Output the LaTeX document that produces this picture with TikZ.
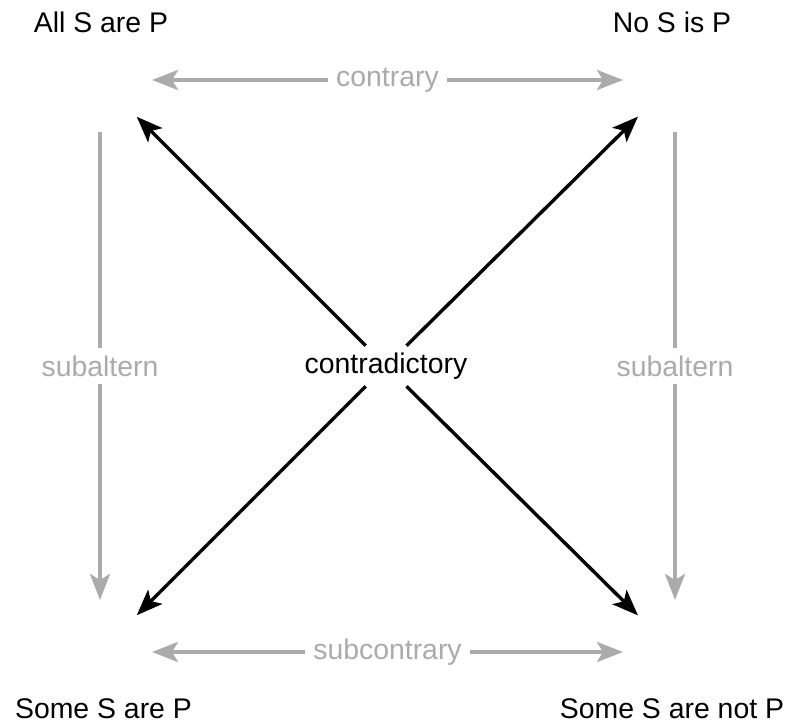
\documentclass[tikz,border=0pt]{standalone}
\usepackage{fontspec}
\setmainfont{Liberation Sans}
\usetikzlibrary{arrows.meta,positioning}
\definecolor{lightgrey}{gray}{0.67}

\begin{document}
\begin{tikzpicture}[x=0.5pt, y=-0.5pt,
	>={Stealth[length=13pt, width=10pt, inset=3pt]},
	every node/.style={font=\fontsize{14.2}{17}\selectfont},
	corner/.style={circle, minimum size=52pt, inner sep=0pt, outer sep=0pt},
	statement/.style={anchor=base, inner sep=0pt},
	rel/.style={fill=white, inner sep=4pt},
	blackarr/.style={->, line width=1.7pt},
	greyarr/.style={line width=1.9pt, draw=lightgrey, text=lightgrey}
]
	\useasboundingbox (0,0) rectangle (788,722);

	% corners of the square
	\node[corner] (A) at (100,80)  {};
	\node[corner] (E) at (675,80)  {};
	\node[corner] (I) at (100,652) {};
	\node[corner] (O) at (675,652) {};

	% statements
	\node[statement] (Atext) at (101,33)    {All S are P};
	\node[statement] (Etext) at (672,33)    {No S is P};
	\node[statement] (Itext) at (103.5,718) {Some S are P};
	\node[statement] (Otext) at (672,718)   {Some S are not P};

	% contradictories
	\node (contra) at (386,366) {contradictory};
	\draw[blackarr] (contra) -- (A);
	\draw[blackarr] (contra) -- (E);
	\draw[blackarr] (contra) -- (I);
	\draw[blackarr] (contra) -- (O);

	% other relations
	\draw[greyarr, <->] (A) -- node[rel] {contrary} (E);
	\draw[greyarr, <->] (I) -- node[rel] {subcontrary} (O);
	\draw[greyarr, ->] (A) -- node[rel] {subaltern} (I);
	\draw[greyarr, ->] (E) -- node[rel] {subaltern} (O);
\end{tikzpicture}
\end{document}
